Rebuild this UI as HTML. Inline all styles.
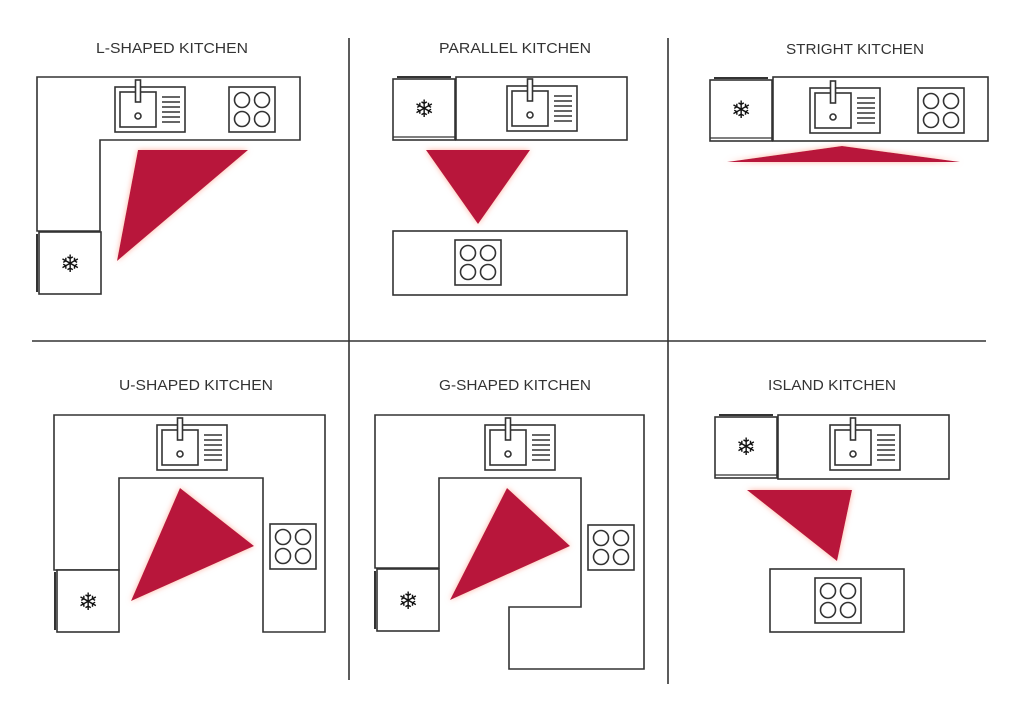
<!DOCTYPE html>
<html><head><meta charset="utf-8"><style>
html,body{margin:0;padding:0;background:#fff;}
svg{display:block}
text{font-family:"Liberation Sans",sans-serif;font-size:15px;fill:#333;text-anchor:middle;}
</style></head><body>
<svg width="1024" height="708" viewBox="0 0 1024 708" xmlns="http://www.w3.org/2000/svg">
<defs>
<filter id="glow" x="-20%" y="-20%" width="140%" height="140%">
<feGaussianBlur in="SourceAlpha" stdDeviation="3" result="b"/>
<feFlood flood-color="#ffb0a0"/><feComposite in2="b" operator="in" result="g"/>
<feMerge><feMergeNode in="g"/><feMergeNode in="SourceGraphic"/></feMerge>
</filter>
<g id="sink" fill="none" stroke="#333" stroke-width="1.6">
<rect x="0" y="0" width="70" height="45" fill="#fff"/>
<rect x="5" y="5" width="36" height="35"/>
<circle cx="23" cy="29" r="3"/>
<rect x="20.5" y="-7" width="5" height="22" fill="#fff"/>
<line x1="47" y1="10" x2="65" y2="10"/><line x1="47" y1="15" x2="65" y2="15"/>
<line x1="47" y1="20" x2="65" y2="20"/><line x1="47" y1="25" x2="65" y2="25"/>
<line x1="47" y1="30" x2="65" y2="30"/><line x1="47" y1="35" x2="65" y2="35"/>
</g>
<g id="hob" fill="none" stroke="#333" stroke-width="1.6">
<rect x="0" y="0" width="46" height="45" fill="#fff"/>
<circle cx="13" cy="13" r="7.5"/><circle cx="33" cy="13" r="7.5"/>
<circle cx="13" cy="32" r="7.5"/><circle cx="33" cy="32" r="7.5"/>
</g>
<g id="fridge">
<rect x="0" y="0" width="62" height="62" fill="#fff" stroke="#333" stroke-width="1.6"/>
<line x1="-2" y1="2" x2="-2" y2="60" stroke="#333" stroke-width="2"/>
<text x="31" y="40" style="font-size:24px;fill:#111;font-weight:bold;font-family:'DejaVu Sans',sans-serif">❄</text>
</g>
<g id="fridgeH">
<rect x="0" y="0" width="62" height="61" fill="#fff" stroke="#333" stroke-width="1.6"/>
<line x1="4" y1="-2" x2="58" y2="-2" stroke="#333" stroke-width="2"/>
<line x1="0" y1="58" x2="62" y2="58" stroke="#333" stroke-width="1.2"/>
<text x="31" y="38" style="font-size:24px;fill:#111;font-weight:bold;font-family:'DejaVu Sans',sans-serif">❄</text>
</g>
</defs>

<g stroke="#333" stroke-width="1.6">
<line x1="349" y1="38" x2="349" y2="680"/>
<line x1="668" y1="38" x2="668" y2="684"/>
<line x1="32" y1="341" x2="986" y2="341"/>
</g>

<g style="font-stretch:condensed">
<text x="172" y="53" textLength="152" lengthAdjust="spacingAndGlyphs">L-SHAPED KITCHEN</text>
<text x="515" y="53" textLength="152" lengthAdjust="spacingAndGlyphs">PARALLEL KITCHEN</text>
<text x="855" y="54" textLength="138" lengthAdjust="spacingAndGlyphs">STRIGHT KITCHEN</text>
<text x="196" y="390" textLength="154" lengthAdjust="spacingAndGlyphs">U-SHAPED KITCHEN</text>
<text x="515" y="390" textLength="152" lengthAdjust="spacingAndGlyphs">G-SHAPED KITCHEN</text>
<text x="832" y="390" textLength="128" lengthAdjust="spacingAndGlyphs">ISLAND KITCHEN</text>
</g>

<g fill="#fff" stroke="#333" stroke-width="1.6">
<path d="M37,77 H300 V140 H100 V231 H37 Z"/>
<rect x="456" y="77" width="171" height="63"/>
<rect x="393" y="231" width="234" height="64"/>
<rect x="773" y="77" width="215" height="64"/>
<path d="M54,415 H325 V632 H263 V478 H119 V570 H54 Z"/>
<path d="M375,415 H644 V669 H509 V607 H581 V478 H439 V568 H375 Z"/>
<rect x="778" y="415" width="171" height="64"/>
<rect x="770" y="569" width="134" height="63"/>
</g>

<use href="#sink" x="115" y="87"/><use href="#hob" x="229" y="87"/>
<use href="#fridge" x="39" y="232"/>

<use href="#fridgeH" x="393" y="79"/><use href="#sink" x="507" y="86"/>
<use href="#hob" x="455" y="240"/>

<use href="#fridgeH" x="710" y="80"/><use href="#sink" x="810" y="88"/>
<use href="#hob" x="918" y="88"/>

<use href="#sink" x="157" y="425"/><use href="#hob" x="270" y="524"/>
<use href="#fridge" x="57" y="570"/>

<use href="#sink" x="485" y="425"/><use href="#hob" x="588" y="525"/>
<use href="#fridge" x="377" y="569"/>

<use href="#fridgeH" x="715" y="417"/><use href="#sink" x="830" y="425"/>
<use href="#hob" x="815" y="578"/>

<g fill="#b8123a" filter="url(#glow)">
<polygon points="138,150 248,150 117,261"/>
<polygon points="426,150 530,150 478,224"/>
<polygon points="727,162 842,146 960,162"/>
<polygon points="180,488 254,546 131,601"/>
<polygon points="507,488 570,546 450,600"/>
<polygon points="747,490 852,490 837,561"/>
</g>
</svg>
</body></html>
